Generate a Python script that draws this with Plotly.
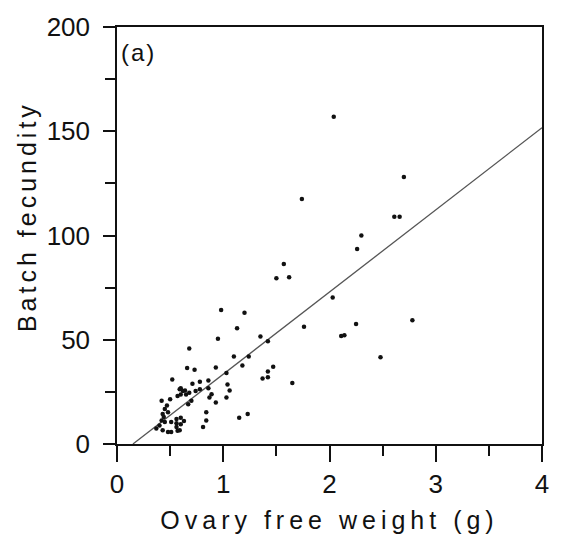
import plotly.graph_objects as go

# Scatter data: ovary-free weight (g) vs batch fecundity
ovary_weight = [
    2.04, 2.70, 1.74, 2.61, 2.66, 2.30, 2.26, 1.57, 1.50, 1.62, 2.03,
    0.98, 1.20, 1.13, 0.95, 1.35, 1.42, 1.76, 2.25, 2.11, 2.14, 2.78, 2.48,
    1.10, 1.24, 1.18, 0.93, 1.03, 1.47, 1.42, 1.42, 1.37, 1.65, 1.04, 1.06, 1.03, 0.89,
    0.68, 0.66, 0.73, 0.52, 0.71, 0.78, 0.86, 0.60, 0.64, 0.86,
    0.59, 0.62, 0.60, 0.57, 0.65, 0.68, 0.74, 0.78, 0.70, 0.67, 0.42, 0.84, 0.81, 0.84,
    0.45, 0.43, 0.48, 0.42, 0.45, 0.40, 0.37, 0.43, 0.48, 0.51,
    0.56, 0.60, 0.63, 0.60, 0.56,
    0.51, 0.56, 0.57, 0.59,
    1.15, 1.23, 0.87, 0.93, 0.47, 0.50, 0.44,
]
batch_fecundity = [
    157, 128, 117.5, 109, 109, 100, 93.5, 86.3, 79.5, 80, 70.3,
    64.3, 63, 55.5, 50.5, 51.6, 49.3, 56.2, 57.6, 51.8, 52.2, 59.3, 41.6,
    42, 42, 37.6, 36.7, 34, 37, 34.8, 32, 31.4, 29.2, 28.5, 25.7, 22.3, 23.9,
    45.8, 36.4, 35.6, 30.9, 28.9, 29.8, 30.4, 26.7, 25.7, 26.7,
    26.2, 25.4, 23.8, 23, 23.8, 24.6, 25.4, 26.2, 20.7, 19.1, 20.7, 15.2, 8.2, 11.3,
    16.8, 14.4, 15.2, 11.3, 10.5, 8.9, 7.4, 6.6, 5.8, 5.8,
    12, 12.6, 11, 9.5, 10,
    10.5, 8.2, 6.3, 6.6,
    12.6, 14.4, 22.3, 19.9, 18.5, 21.5, 13,
]

# Regression line end points
fit_x = [0.15, 4.0]
fit_y = [0.0, 151.7]

x_ticks = [0, 1, 2, 3, 4]
y_ticks = [0, 50, 100, 150, 200]

FONT = "Liberation Sans, Arial, Helvetica, sans-serif"
INK = "#111111"

fig = go.Figure()
fig.add_trace(go.Scatter(
    x=fit_x, y=fit_y, mode="lines",
    line=dict(color="#555555", width=1.3), hoverinfo="skip", showlegend=False,
))
fig.add_trace(go.Scatter(
    x=ovary_weight, y=batch_fecundity, mode="markers",
    marker=dict(color=INK, size=4.5, symbol="circle"), showlegend=False,
))

axis_common = dict(
    showgrid=False, zeroline=False, showline=True, linecolor=INK, linewidth=1.5,
    mirror=True, ticks="outside", tickcolor=INK, tickwidth=1.5,
    tickfont=dict(family=FONT, size=26, color=INK),
)

fig.update_xaxes(
    range=[0, 4], tickvals=x_ticks, ticktext=[str(v) for v in x_ticks], ticklen=16,
    minor=dict(tickvals=[0.5, 1.5, 2.5, 3.5], ticks="outside", ticklen=10, tickcolor=INK, tickwidth=1.5),
    title=dict(text="Ovary free weight (g)", font=dict(family=FONT, size=25, color=INK), standoff=14),
    **axis_common,
)
fig.update_yaxes(
    range=[0, 200], tickvals=y_ticks, ticktext=[str(v) for v in y_ticks], ticklen=12,
    ticklabelstandoff=8,
    minor=dict(tickvals=[25, 75, 125, 175], ticks="outside", ticklen=10, tickcolor=INK, tickwidth=1.5),
    **axis_common,
)

fig.add_annotation(
    x=0.012, y=0.94, xref="paper", yref="paper", text="(a)", showarrow=False,
    xanchor="left", yanchor="middle", font=dict(family=FONT, size=24, color=INK),
)
# y-axis title (placed as annotation to match its position in the original)
fig.add_annotation(
    x=-0.21, y=0.546, xref="paper", yref="paper", text="Batch fecundity", showarrow=False,
    textangle=-90, xanchor="center", yanchor="middle",
    font=dict(family=FONT, size=25, color=INK),
)

fig.update_layout(
    width=561, height=551,
    margin=dict(l=117, r=16, t=19, b=107),
    paper_bgcolor="white", plot_bgcolor="white",
)

post = (
    "var s=document.createElement('style');"
    "s.textContent='.xtitle{letter-spacing:5px}"
    ".annotation[data-index=\"1\"] text{letter-spacing:4px}"
    ".annotation[data-index=\"0\"] text{letter-spacing:2px}';"
    "document.head.appendChild(s);"
)
fig.write_html("out.html", post_script=post)
